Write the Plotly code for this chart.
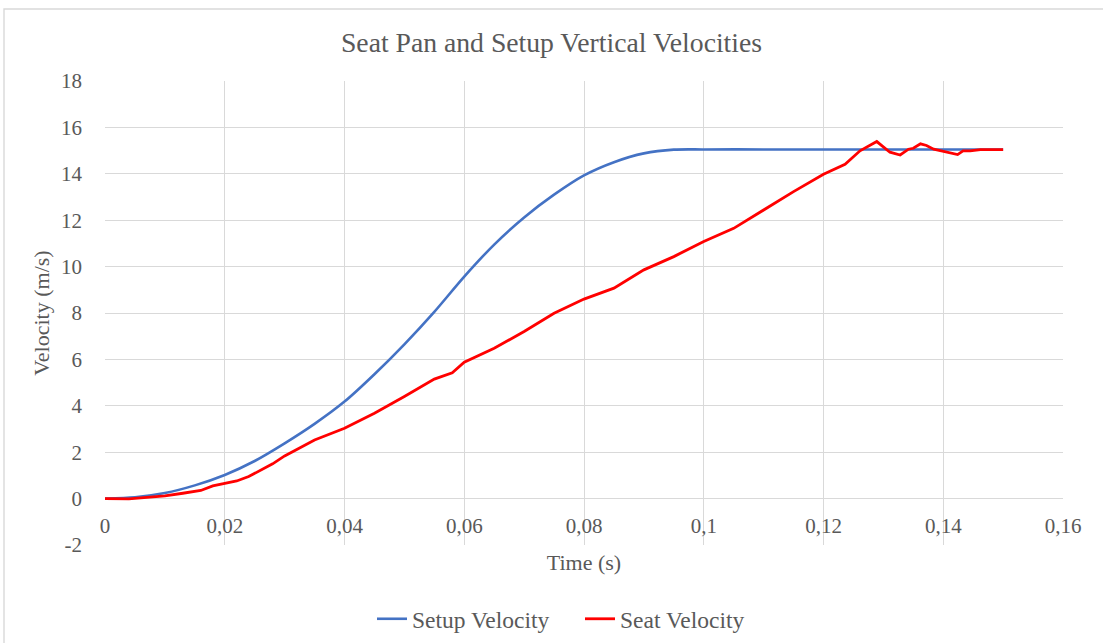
import plotly.graph_objects as go

# Setup (sled) vertical velocity, m/s
setup_time = [0, 0.005, 0.01, 0.015, 0.02, 0.025, 0.03, 0.035, 0.04, 0.045, 0.05,
              0.055, 0.06, 0.065, 0.07, 0.075, 0.08, 0.085, 0.09, 0.095, 0.1,
              0.11, 0.12, 0.13, 0.14, 0.15]
setup_velocity = [0, 0.06, 0.24, 0.57, 1.02, 1.62, 2.38, 3.22, 4.18, 5.36, 6.65,
                  8.05, 9.57, 10.95, 12.12, 13.1, 13.93, 14.5, 14.88, 15.04, 15.05,
                  15.05, 15.05, 15.05, 15.05, 15.05]

# Seat pan vertical velocity, m/s
seat_time = [0, 0.004, 0.007, 0.01, 0.013, 0.016, 0.018, 0.02, 0.022, 0.024, 0.026,
             0.028, 0.03, 0.035, 0.04, 0.045, 0.05, 0.055, 0.058, 0.06, 0.065,
             0.07, 0.075, 0.08, 0.085, 0.09, 0.095, 0.1, 0.105, 0.11, 0.115,
             0.12, 0.1236, 0.1261, 0.1289, 0.1311, 0.1328, 0.1342, 0.135, 0.1362,
             0.1372, 0.1384, 0.14, 0.1414, 0.1424, 0.1433, 0.1445, 0.1462, 0.15]
seat_velocity = [0, -0.01, 0.05, 0.12, 0.23, 0.35, 0.55, 0.66, 0.76, 0.95, 1.21,
                 1.5, 1.84, 2.53, 3.03, 3.68, 4.4, 5.15, 5.42, 5.88, 6.48,
                 7.2, 7.99, 8.6, 9.07, 9.86, 10.43, 11.08, 11.65, 12.44, 13.23,
                 13.98, 14.41, 14.99, 15.39, 14.93, 14.81, 15.06, 15.1, 15.29,
                 15.22, 15.06, 14.96, 14.89, 14.83, 14.99, 14.99, 15.04, 15.04]

x_ticks = [0, 0.02, 0.04, 0.06, 0.08, 0.1, 0.12, 0.14, 0.16]
x_tick_text = ["0", "0,02", "0,04", "0,06", "0,08", "0,1", "0,12", "0,14", "0,16"]
y_ticks = [-2, 0, 2, 4, 6, 8, 10, 12, 14, 16, 18]
y_tick_text = ["-2", "0", "2", "4", "6", "8", "10", "12", "14", "16", "18"]

FONT = "Liberation Serif"
TEXT = "#595959"
GRID = "#D9D9D9"

fig = go.Figure()
fig.add_trace(go.Scatter(x=setup_time, y=setup_velocity, mode="lines",
                         name="Setup Velocity",
                         line=dict(color="#4472C4", width=2.6, shape="spline", smoothing=0.8)))
fig.add_trace(go.Scatter(x=seat_time, y=seat_velocity, mode="lines",
                         name="Seat Velocity",
                         line=dict(color="#FF0000", width=2.8)))

L, R, T, B = 105, 40, 81, 98
W, H = 1103, 643
pw, ph = W - L - R, H - T - B

def px_x(p):
    return (p - L) / pw

def px_y(p):
    return (H - B - p) / ph

fig.update_layout(
    width=W, height=H,
    margin=dict(l=L, r=R, t=T, b=B, autoexpand=False),
    paper_bgcolor="white", plot_bgcolor="white",
    font=dict(family=FONT, color=TEXT, size=21),
    title=dict(text="Seat Pan and Setup Vertical Velocities",
               font=dict(family=FONT, size=27.7, color=TEXT),
               x=0.5, xanchor="center", y=1 - 42 / H, yanchor="middle"),
    showlegend=True,
    legend=dict(orientation="h", x=px_x(372), xanchor="left",
                y=px_y(619), yanchor="middle", entrywidth=163,
                font=dict(family=FONT, size=23.5, color=TEXT),
                bgcolor="rgba(0,0,0,0)"),
    xaxis=dict(range=[0, 0.16], tickvals=x_ticks, ticktext=x_tick_text,
               showgrid=True, gridcolor=GRID, gridwidth=1.4,
               zeroline=False, showline=False, ticks="", automargin=False,
               anchor="free", position=0.1, ticklabelstandoff=12,
               tickfont=dict(family=FONT, size=21, color=TEXT),
               title=dict(text="Time (s)", font=dict(family=FONT, size=22, color=TEXT),
                          standoff=18)),
    yaxis=dict(range=[-2, 18], tickvals=y_ticks, ticktext=y_tick_text,
               showgrid=True, gridcolor=GRID, gridwidth=1.4,
               zeroline=False, showline=False, ticks="", automargin=False,
               ticklabelstandoff=22,
               tickfont=dict(family=FONT, size=21, color=TEXT),
               title=dict(text="Velocity (m/s)", font=dict(family=FONT, size=22, color=TEXT),
                          standoff=5)),
    shapes=[dict(type="rect", xref="paper", yref="paper",
                 x0=px_x(4), x1=px_x(1130), y0=px_y(670), y1=px_y(9),
                 line=dict(color=GRID, width=1.4), layer="below")],
)

fig.write_html("out.html")
